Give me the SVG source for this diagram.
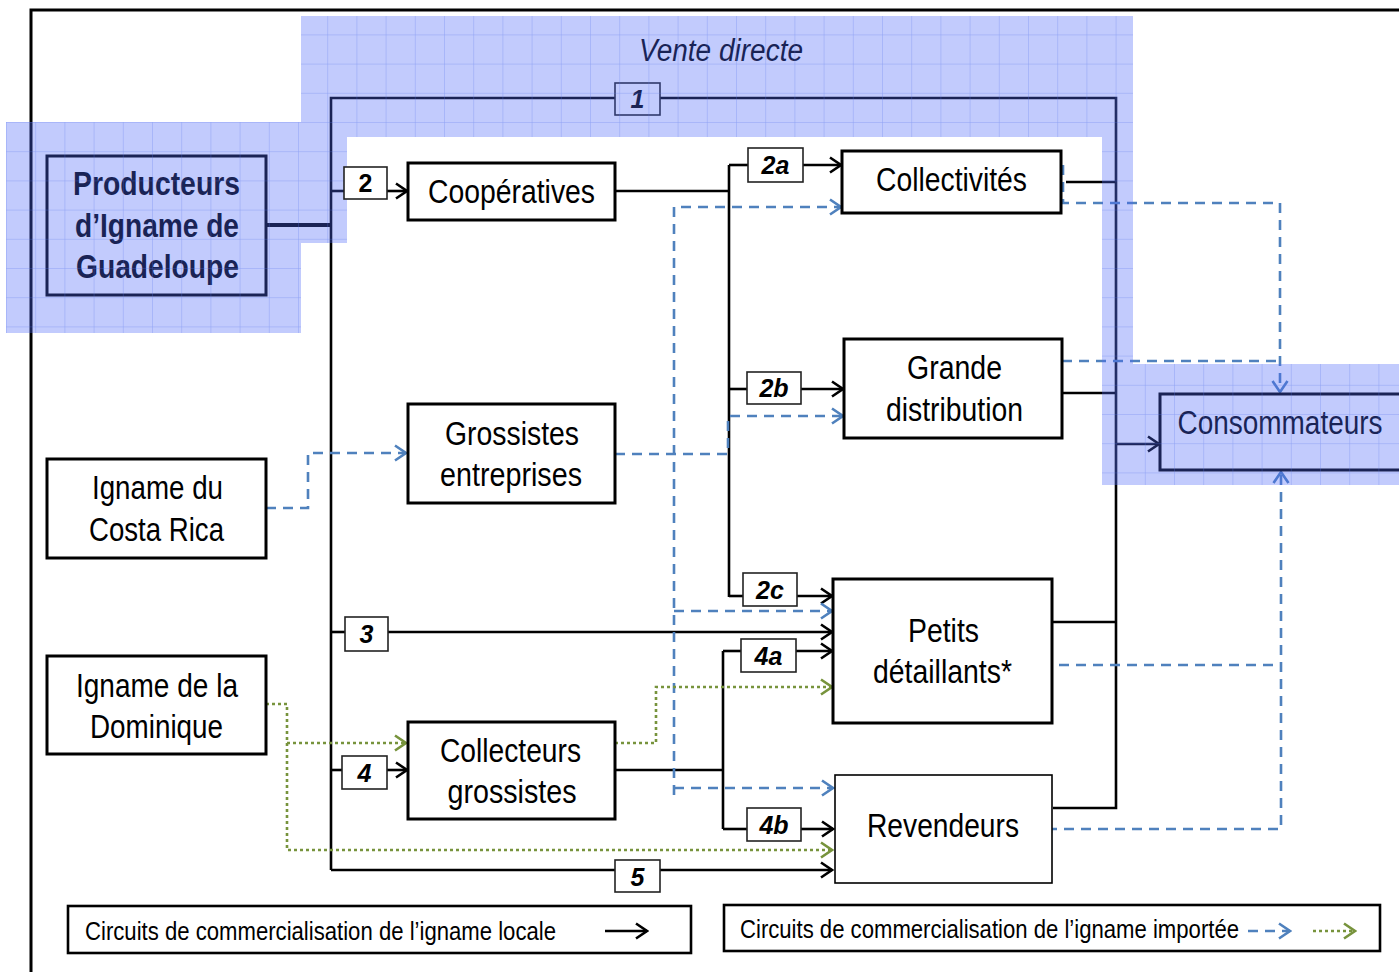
<svg xmlns="http://www.w3.org/2000/svg" width="1399" height="972" viewBox="0 0 1399 972">
<style>
text{font-family:"Liberation Sans Narrow","Liberation Sans",Arial,sans-serif;fill:#000}
.n{font-size:34px;text-anchor:middle}
.b{font-weight:bold}
.lb{font-size:25px;font-weight:bold;font-style:italic;text-anchor:middle}
.box{fill:#fff;stroke:#000;stroke-width:3}
.tbox{fill:#fff;stroke:#222;stroke-width:1.6}
.k{fill:none;stroke:#000;stroke-width:2.6}
.kt{fill:none;stroke:#000;stroke-width:4}
.ka{fill:none;stroke:#000;stroke-width:2.6;marker-end:url(#ak)}
.d{fill:none;stroke:#4f81bd;stroke-width:2.6;stroke-dasharray:10 7}
.da{fill:none;stroke:#4f81bd;stroke-width:2.6;stroke-dasharray:10 7;marker-end:url(#ab)}
.g{fill:none;stroke:#77933c;stroke-width:2.6;stroke-dasharray:3 3}
.ga{fill:none;stroke:#77933c;stroke-width:2.6;stroke-dasharray:3 3;marker-end:url(#ag)}
</style>
<defs>
<marker id="ak" markerUnits="userSpaceOnUse" markerWidth="16" markerHeight="18" viewBox="0 0 16 18" refX="14" refY="9" orient="auto"><path d="M3,1.5 L14,9 L3,16.5" fill="none" stroke="#000" stroke-width="2.6"/></marker>
<marker id="ab" markerUnits="userSpaceOnUse" markerWidth="16" markerHeight="18" viewBox="0 0 16 18" refX="14" refY="9" orient="auto"><path d="M3,1.5 L14,9 L3,16.5" fill="none" stroke="#4f81bd" stroke-width="2.6"/></marker>
<marker id="ag" markerUnits="userSpaceOnUse" markerWidth="16" markerHeight="18" viewBox="0 0 16 18" refX="14" refY="9" orient="auto"><path d="M3,1.5 L14,9 L3,16.5" fill="none" stroke="#77933c" stroke-width="2.6"/></marker>
<pattern id="grid" patternUnits="userSpaceOnUse" x="6" y="122" width="29.2" height="29.2"><path d="M0,0 H29.2 M0,0 V29.2" fill="none" stroke="#5a78eb" stroke-opacity="0.5" stroke-width="1"/></pattern>
</defs>
<rect width="1399" height="972" fill="#fff"/>
<path d="M31,972 V10 H1399" fill="none" stroke="#000" stroke-width="3"/>

<g id="connectors">
<path class="kt" d="M266,225 H331"/>
<path class="k" d="M331,870 V98 H1116 V808 H1053"/>
<path class="ka" d="M1116,444 H1159"/>
<path class="k" d="M331,191 H344"/><path class="ka" d="M387,191 H407"/>
<path class="k" d="M331,632 H345"/><path class="ka" d="M388,632 H832"/>
<path class="k" d="M331,770 H342"/><path class="ka" d="M387,770 H407"/>
<path class="ka" d="M331,870 H832"/>
<path class="k" d="M615,191 H729 M729,165 V597"/>
<path class="k" d="M729,165 H748"/><path class="ka" d="M803,165 H841"/>
<path class="k" d="M729,389 H747"/><path class="ka" d="M801,389 H843"/>
<path class="k" d="M729,596 H743"/><path class="ka" d="M797,596 H832"/>
<path class="k" d="M615,770 H723 M723,651 V829"/>
<path class="k" d="M723,651 H741"/><path class="ka" d="M796,651 H832"/>
<path class="k" d="M723,829 H747"/><path class="ka" d="M801,829 H833"/>
<path class="k" d="M1066,182 H1116 M1062,393 H1116 M1052,622 H1116"/>
<path class="da" d="M674,795 V207 H841"/>
<path class="da" d="M615,454 H728 V416 H843"/>
<path class="da" d="M674,611 H832"/>
<path class="da" d="M674,788 H833"/>
<path class="da" d="M266,508 H308 V453 H406"/>
<path class="da" d="M1063,165 V203 H1280 V392"/>
<path class="d" d="M1062,361 H1280"/>
<path class="d" d="M1059,665 H1281"/>
<path class="da" d="M1051,850 V829 H1281 V472"/>
<path class="ga" d="M266,704 H287 V850 H832"/>
<path class="ga" d="M287,743 H406"/>
<path class="ga" d="M615,743 H656 V687 H832"/>
<g id="label-1"><rect class="tbox" x="615" y="83" width="45" height="32"/><text class="lb" x="637.5" y="108">1</text></g>
<g id="label-2a"><rect class="tbox" x="748" y="148" width="55" height="34"/><text class="lb" x="775.5" y="174">2a</text></g>
<g id="label-2b"><rect class="tbox" x="747" y="372" width="54" height="32"/><text class="lb" x="774" y="397">2b</text></g>
<g id="label-2c"><rect class="tbox" x="743" y="573" width="54" height="33"/><text class="lb" x="770" y="599">2c</text></g>
<g id="label-3"><rect class="tbox" x="345" y="617" width="43" height="34"/><text class="lb" x="366.5" y="643">3</text></g>
<g id="label-4a"><rect class="tbox" x="741" y="639" width="55" height="33"/><text class="lb" x="768.5" y="665">4a</text></g>
<g id="label-4"><rect class="tbox" x="342" y="756" width="45" height="33"/><text class="lb" x="364.5" y="782">4</text></g>
<g id="label-4b"><rect class="tbox" x="747" y="808" width="54" height="33"/><text class="lb" x="774" y="834">4b</text></g>
<g id="label-5"><rect class="tbox" x="615" y="860" width="45" height="32"/><text class="lb" x="637.5" y="886">5</text></g>
</g>

<g id="producteurs"><rect class="box" x="47" y="156" width="219" height="139"/>
<text class="n b" font-size="33" x="156.5" y="195" textLength="167" lengthAdjust="spacingAndGlyphs">Producteurs</text>
<text class="n b" font-size="33" x="157" y="237" textLength="164" lengthAdjust="spacingAndGlyphs">d’Igname de</text>
<text class="n b" font-size="33" x="157.5" y="278" textLength="163" lengthAdjust="spacingAndGlyphs">Guadeloupe</text></g>

<g id="cooperatives"><rect class="box" x="408" y="163" width="207" height="57"/>
<text class="n" x="511.5" y="203" textLength="167" lengthAdjust="spacingAndGlyphs">Coopératives</text></g>

<g id="grossistes-entreprises"><rect class="box" x="408" y="404" width="207" height="99"/>
<text class="n" x="512" y="445" textLength="134" lengthAdjust="spacingAndGlyphs">Grossistes</text>
<text class="n" x="511" y="486" textLength="142" lengthAdjust="spacingAndGlyphs">entreprises</text></g>

<g id="costa-rica"><rect class="box" x="47" y="459" width="219" height="99"/>
<text class="n" x="157.5" y="499" textLength="131" lengthAdjust="spacingAndGlyphs">Igname du</text>
<text class="n" x="156.5" y="541" textLength="135" lengthAdjust="spacingAndGlyphs">Costa Rica</text></g>

<g id="dominique"><rect class="box" x="47" y="656" width="219" height="98"/>
<text class="n" x="157" y="697" textLength="162" lengthAdjust="spacingAndGlyphs">Igname de la</text>
<text class="n" x="156.5" y="738" textLength="133" lengthAdjust="spacingAndGlyphs">Dominique</text></g>

<g id="collecteurs"><rect class="box" x="408" y="722" width="207" height="97"/>
<text class="n" x="510.5" y="762" textLength="141" lengthAdjust="spacingAndGlyphs">Collecteurs</text>
<text class="n" x="512" y="803" textLength="129" lengthAdjust="spacingAndGlyphs">grossistes</text></g>

<g id="collectivites"><rect class="box" x="842" y="151" width="219" height="62"/>
<text class="n" x="951.5" y="191" textLength="151" lengthAdjust="spacingAndGlyphs">Collectivités</text></g>

<g id="grande-distribution"><rect class="box" x="844" y="339" width="218" height="99"/>
<text class="n" x="954.5" y="379" textLength="95" lengthAdjust="spacingAndGlyphs">Grande</text>
<text class="n" x="954.5" y="421" textLength="137" lengthAdjust="spacingAndGlyphs">distribution</text></g>

<g id="petits-detaillants"><rect class="box" x="833" y="579" width="219" height="144"/>
<text class="n" x="943.5" y="642" textLength="71" lengthAdjust="spacingAndGlyphs">Petits</text>
<text class="n" x="942.5" y="683" textLength="139" lengthAdjust="spacingAndGlyphs">détaillants*</text></g>

<g id="revendeurs"><rect x="835" y="775" width="217" height="108" fill="#fff" stroke="#000" stroke-width="1.6"/>
<text class="n" x="943" y="837" textLength="152" lengthAdjust="spacingAndGlyphs">Revendeurs</text></g>

<g id="consommateurs"><rect x="1160" y="394" width="239" height="76" fill="#fff"/>
<path d="M1399,394 H1160 V470 H1399" fill="none" stroke="#000" stroke-width="3"/>
<text class="n" x="1280" y="434" textLength="205" lengthAdjust="spacingAndGlyphs">Consommateurs</text></g>

<g id="vente-directe">
<text x="721" y="61" font-size="31" font-style="italic" text-anchor="middle" textLength="164" lengthAdjust="spacingAndGlyphs">Vente directe</text>
<path d="M301,16 H1133 V364 H1399 V485 H1102 V137 H347 V243 H301 V333 H6 V122 H301 Z" fill="#4d66f8" fill-opacity="0.34"/>
<path d="M301,16 H1133 V364 H1399 V485 H1102 V137 H347 V243 H301 V333 H6 V122 H301 Z" fill="url(#grid)"/>
</g>

<g id="label-2"><rect class="tbox" x="344" y="167" width="43" height="32"/><text x="365.5" y="192" font-size="25" font-weight="bold" text-anchor="middle">2</text></g>

<g id="legend-locale"><rect x="68" y="906" width="623" height="47" fill="#fff" stroke="#000" stroke-width="2.6"/>
<text x="85" y="940" font-size="25" textLength="471" lengthAdjust="spacingAndGlyphs">Circuits de commercialisation de l’igname locale</text>
<path class="ka" d="M605,931 H647"/></g>

<g id="legend-importee"><rect x="724" y="905" width="656" height="46" fill="#fff" stroke="#000" stroke-width="2.6"/>
<text x="740" y="938" font-size="25" textLength="499" lengthAdjust="spacingAndGlyphs">Circuits de commercialisation de l’igname importée</text>
<path class="da" d="M1248,931 H1290"/>
<path class="ga" d="M1313,931 H1355"/></g>
</svg>
